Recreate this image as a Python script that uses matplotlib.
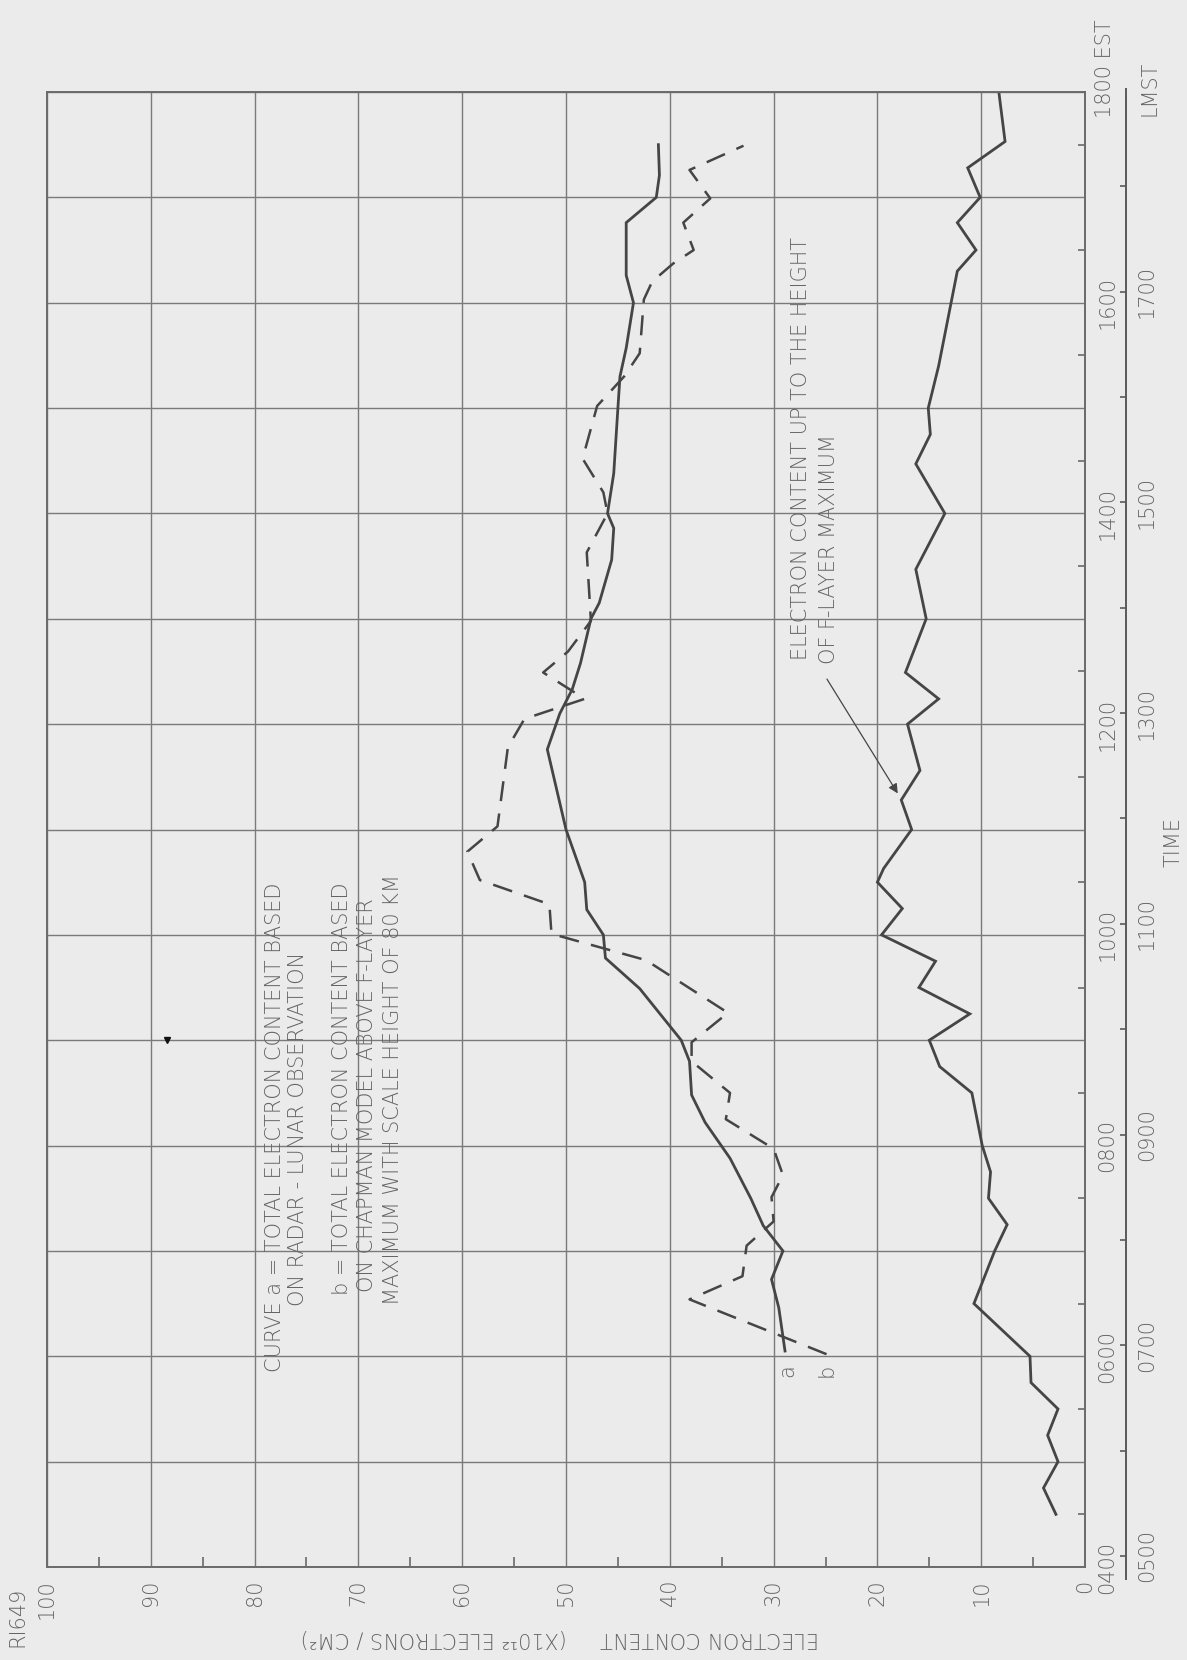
import numpy as np
import matplotlib
matplotlib.use("Agg")
import matplotlib.pyplot as plt
from matplotlib.ticker import FixedLocator, FuncFormatter

# time of day (EST, decimal hours) and electron content (x10^12 el/cm^2)
t_flayer = [4.5, 4.75, 5.0, 5.25, 5.5, 5.75, 6.0, 6.5, 6.75, 7.0, 7.25, 7.5, 7.75, 8.0,
            8.5, 8.75, 9.0, 9.25, 9.5, 9.75, 10.0, 10.25, 10.5, 10.63, 11.0, 11.28, 11.56,
            12.0, 12.24, 12.49, 13.0, 13.47, 14.0, 14.47, 14.75, 15.0, 15.4, 16.0, 16.3,
            16.5, 16.76, 17.0, 17.28, 17.53, 18.0]
n_flayer = [2.8, 4.0, 2.6, 3.6, 2.6, 5.2, 5.3, 10.7, 9.7, 8.7, 7.5, 9.3, 9.1, 9.9,
            10.9, 14.0, 15.0, 11.1, 16.0, 14.4, 19.6, 17.6, 20.0, 19.4, 16.7, 17.7, 15.9,
            17.1, 14.1, 17.3, 15.3, 16.3, 13.5, 16.3, 14.9, 15.1, 14.1, 12.9, 12.3,
            10.5, 12.3, 10.1, 11.3, 7.7, 8.3]

t_a = [6.05, 6.46, 6.73, 7.0, 7.24, 7.5, 7.88, 8.22, 8.48, 8.8, 9.0, 9.49, 9.78, 10.0,
       10.24, 10.5, 11.0, 11.76, 12.1, 12.33, 12.58, 13.0, 13.15, 13.56, 13.86, 14.0,
       14.38, 15.0, 15.3, 15.57, 16.0, 16.26, 16.76, 17.0, 17.21, 17.5]
n_a = [28.9, 29.5, 30.2, 29.1, 31.0, 32.2, 34.2, 36.6, 37.9, 38.1, 38.9, 42.9, 46.2, 46.4,
       48.0, 48.2, 50.0, 51.8, 50.6, 49.4, 48.6, 47.6, 46.8, 45.6, 45.4, 46.0,
       45.4, 45.0, 44.8, 44.2, 43.5, 44.2, 44.2, 41.3, 41.0, 41.1]

t_b = [6.02, 6.54, 6.76, 7.05, 7.28, 7.51, 7.72, 7.97, 8.25, 8.5, 8.8, 8.98, 9.26, 9.76,
       10.01, 10.29, 10.52, 10.79, 11.03, 11.78, 12.05, 12.24, 12.49, 12.69, 12.98, 13.63,
       14.0, 14.2, 14.52, 15.02, 15.3, 15.52, 16.03, 16.2, 16.37, 16.5, 16.76, 16.99,
       17.26, 17.49]
n_b = [24.9, 38.1, 33.0, 32.6, 30.0, 30.2, 29.1, 30.0, 34.6, 34.2, 37.9, 37.9, 34.4, 42.3,
       51.4, 51.6, 58.3, 59.5, 56.6, 55.6, 54.0, 48.2, 52.2, 49.8, 47.6, 48.0,
       46.0, 46.4, 48.4, 47.0, 44.4, 42.9, 42.5, 41.7, 39.7, 37.7, 38.7, 36.1,
       38.1, 32.9]

content_ticks = list(range(0, 101, 10))
est_hours = list(range(4, 19))
est_labels = ['0400', '0600', '0800', '1000', '1200', '1400', '1600']
lmst_hours = list(range(5, 19))
lmst_labels = ['0500', '0700', '0900', '1100', '1300', '1500', '1700']
lmst_offset = 0.895          # LMST - EST, hours

note_a = ["CURVE a = TOTAL ELECTRON CONTENT BASED",
          "ON RADAR - LUNAR OBSERVATION",
          "b = TOTAL ELECTRON CONTENT BASED",
          "ON CHAPMAN MODEL ABOVE F-LAYER",
          "MAXIMUM WITH SCALE HEIGHT OF 80 KM"]
note_f = ["ELECTRON CONTENT UP TO THE HEIGHT", "OF F-LAYER MAXIMUM"]

BG = '#ebebeb'
GRID = '#7a7a7a'
INK = '#454545'
TXT = '#646464'
FS = 15

plt.rcParams['font.family'] = ['DejaVu Sans']
plt.rcParams['font.weight'] = 'light'

W, H = 1187, 1660
fig = plt.figure(figsize=(W / 100, H / 100), dpi=100, facecolor=BG)
ax = fig.add_axes([47 / W, 1 - 1567 / H, (1085 - 47) / W, (1567 - 92) / H])
ax.set_facecolor(BG)
ax.set_xlim(100, 0)
ax.set_ylim(4, 18)

# LMST scale, offset to the right (made first, twinx moves the EST ticks)
ax2 = ax.twinx()
ax2.set_ylim(4 + lmst_offset, 18 + lmst_offset)
for side in ['left', 'top', 'bottom']:
    ax2.spines[side].set_visible(False)
ax2.spines['right'].set_position(('outward', 29.5))
ax2.spines['right'].set_bounds(4.78, 18.92)
ax2.spines['right'].set_color('#5a5a5a')
ax2.spines['right'].set_linewidth(1.4)
ax2.yaxis.set_major_locator(FixedLocator(lmst_hours))
ax2.yaxis.set_major_formatter(FuncFormatter(
    lambda v, p: '%02d00' % int(round(v)) if '%02d00' % int(round(v)) in lmst_labels else ''))
ax2.tick_params(axis='y', direction='in', length=4.5, width=1.2, color='#5a5a5a',
                pad=8, labelsize=FS, labelcolor=TXT, labelrotation=90)
for lab in ax2.get_yticklabels():
    lab.set_verticalalignment('center')

for s in ax.spines.values():
    s.set_color('#6a6a6a')
    s.set_linewidth(1.4)

# content axis along the bottom
ax.xaxis.set_major_locator(FixedLocator(content_ticks))
ax.xaxis.set_minor_locator(FixedLocator(np.arange(5, 100, 10)))
ax.tick_params(axis='x', which='major', length=0, pad=9, labelsize=FS,
               labelcolor=TXT, labelrotation=90)
ax.tick_params(axis='x', which='minor', direction='in', length=7, width=1.2,
               color='#6a6a6a', bottom=True, top=False)

# EST time axis along the right edge
ax.yaxis.tick_right()
ax.yaxis.set_major_locator(FixedLocator(est_hours))
ax.yaxis.set_minor_locator(FixedLocator(np.arange(4.5, 18, 1.0)))
ax.yaxis.set_major_formatter(FuncFormatter(
    lambda v, p: '%02d00' % int(round(v)) if '%02d00' % int(round(v)) in est_labels else ''))
ax.tick_params(axis='y', which='major', length=0, pad=9, labelsize=FS,
               labelcolor=TXT, labelrotation=90, left=False, right=True,
               labelleft=False, labelright=True)
ax.tick_params(axis='y', which='minor', direction='in', length=5, width=1.2,
               color='#6a6a6a', left=False, right=True)
for lab in ax.get_yticklabels():
    lab.set_verticalalignment('center')

ax.grid(True, which='major', color=GRID, lw=1.0)
ax.set_axisbelow(True)

# curves
ax.plot(n_flayer, t_flayer, color=INK, lw=2.0, solid_joinstyle='miter')
ax.plot(n_a, t_a, color=INK, lw=2.0, solid_joinstyle='miter')
ax.plot(n_b, t_b, color=INK, lw=1.8, dashes=(8, 5))

ax.text(28.7, 5.93, 'a', rotation=90, ha='center', va='top', fontsize=FS, color=TXT)
ax.text(24.9, 5.93, 'b', rotation=90, ha='center', va='top', fontsize=FS, color=TXT)

# notes
note_x = [78.0, 75.8, 71.6, 69.2, 66.7]
note_t = [8.17, 8.16, 8.54, 8.48, 8.53]
for x, t, s in zip(note_x, note_t, note_a):
    ax.text(x, t, s, rotation=90, rotation_mode='anchor', ha='center', va='center',
            fontsize=FS, color=TXT)
for x, t, s in zip([27.4, 24.7], [14.62, 13.66], note_f):
    ax.text(x, t, s, rotation=90, rotation_mode='anchor', ha='center', va='center',
            fontsize=FS, color=TXT)
ax.annotate('', xy=(17.9, 11.32), xytext=(25.0, 12.45),
            arrowprops=dict(arrowstyle='-|>', color=INK, lw=0.9, mutation_scale=14))

# small ink blot on the grid
ax.plot([88.4], [9.0], marker='v', ms=5, color='#111111')

# outer labels
fig.text(1105 / W, 1 - 118 / H, '1800 EST', rotation=90, rotation_mode='anchor',
         ha='left', va='center', fontsize=FS, color=TXT)
fig.text(1150 / W, 1 - 88 / H, 'LMST', rotation=90, ha='center', va='center',
         fontsize=FS, color=TXT)
fig.text(1174 / W, 1 - 842 / H, 'TIME', rotation=90, ha='center', va='center',
         fontsize=FS, color=TXT)
fig.text(17 / W, 1 - 1617 / H, 'RI649', rotation=90, ha='center', va='center',
         fontsize=FS, color=TXT)
fig.text(560 / W, 1 - 1638 / H, 'ELECTRON CONTENT     (X10\u00b9\u00b2 ELECTRONS / CM\u00b2)',
         rotation=180, ha='center', va='center', fontsize=FS, color=TXT)

fig.savefig('out.png', dpi=100, facecolor=BG)
